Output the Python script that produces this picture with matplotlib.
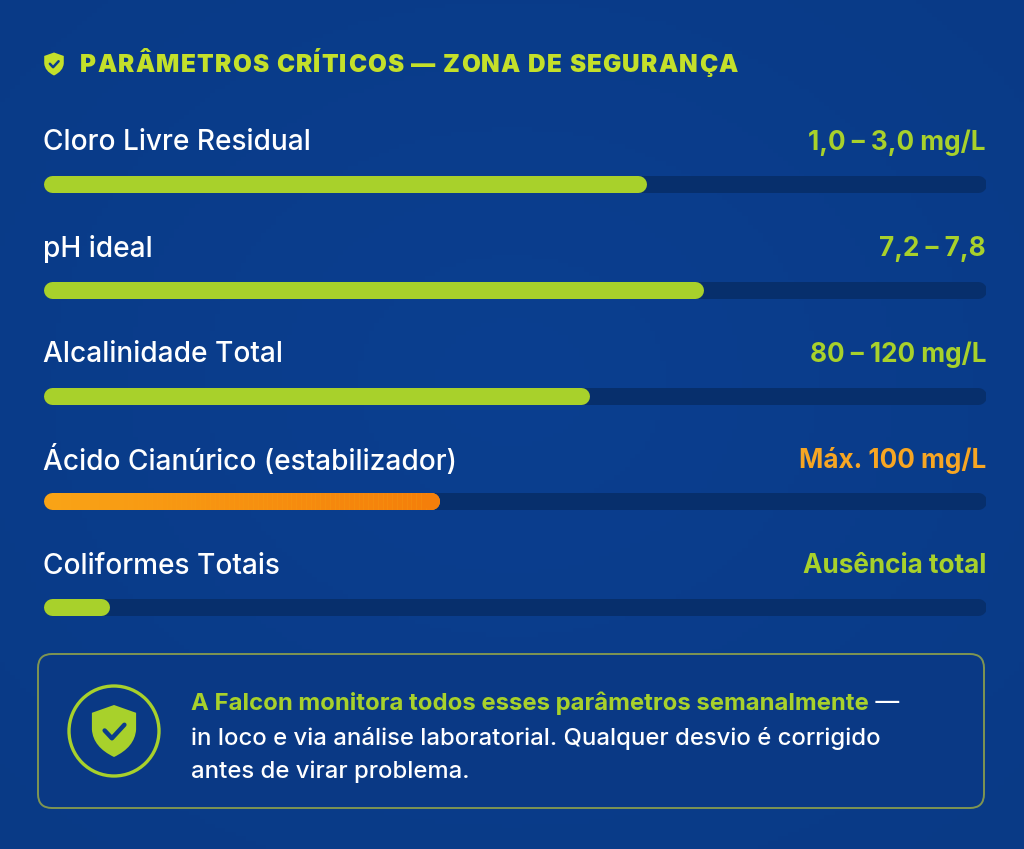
import numpy as np
import matplotlib
matplotlib.use("Agg")
import matplotlib.pyplot as plt
from matplotlib.patches import FancyBboxPatch, Circle, PathPatch
from matplotlib.path import Path
from matplotlib.collections import LineCollection
from matplotlib.colors import to_rgb

# ---------------- data ----------------
params = ["Cloro Livre Residual", "pH ideal", "Alcalinidade Total",
          "Ácido Cianúrico (estabilizador)", "Coliformes Totais"]
ranges = ["1,0 – 3,0 mg/L", "7,2 – 7,8", "80 – 120 mg/L",
          "Máx. 100 mg/L", "Ausência total"]
levels = [64, 70, 58, 42, 7]
warn = [False, False, False, True, False]
title = "PARÂMETROS CRÍTICOS — ZONA DE SEGURANÇA"
note_bold = "A Falcon monitora todos esses parâmetros semanalmente"
note_tail = " —"
note_lines = ["in loco e via análise laboratorial. Qualquer desvio é corrigido",
              "antes de virar problema."]

# ---------------- style ----------------
BG = "#0a3d8c"
TRACK = "#072f6c"
GREEN = "#a8d12b"
TITLE_GREEN = "#c4e02a"
ORANGE_TXT = "#f7a623"
OR_L, OR_R = "#f9a316", "#f47f0a"
WHITE = "#ffffff"
FONT = "Inter"

W, H = 1024, 849
fig = plt.figure(figsize=(W / 100, H / 100), dpi=100)
fig.patch.set_facecolor(BG)

bg = fig.add_axes([0, 0, 1, 1])
bg.set_xlim(0, W)
bg.set_ylim(H, 0)
bg.axis("off")
yy = np.linspace(0, 1, 200)[:, None]
xx = np.linspace(0, 1, 200)[None, :]
c0 = np.array(to_rgb("#0b3f90"))
c1 = np.array(to_rgb("#093a86"))
r = np.clip(np.sqrt((xx - 0.5) ** 2 + (yy - 0.45) ** 2) / 0.75, 0, 1)
img = c0[None, None, :] * (1 - r[..., None]) + c1[None, None, :] * r[..., None]
bg.imshow(img, extent=[0, W, H, 0], aspect="auto", zorder=0)


def shield(ax, cx, cy, s, color, check_color, lw):
    verts = [(0, 1.0), (0.85, 0.70), (0.85, 0.05), (0.80, -0.62), (0, -1.0),
             (-0.80, -0.62), (-0.85, 0.05), (-0.85, 0.70), (0, 1.0)]
    codes = [Path.MOVETO, Path.LINETO, Path.LINETO, Path.CURVE3, Path.CURVE3,
             Path.CURVE3, Path.CURVE3, Path.LINETO, Path.CLOSEPOLY]
    v = [(cx + s * x, cy - s * y) for x, y in verts]
    ax.add_patch(PathPatch(Path(v, codes), fc=color, ec="none", zorder=5))
    ck = [(-0.36, 0.02), (-0.08, -0.28), (0.40, 0.24)]
    ax.plot([cx + s * x for x, y in ck], [cy - s * y for x, y in ck],
            color=check_color, lw=lw, solid_capstyle="round",
            solid_joinstyle="round", zorder=6)


renderer = fig.canvas.get_renderer()


def text_w(s, **kw):
    t = bg.text(0, 0, s, **kw)
    w = t.get_window_extent(renderer).width
    t.remove()
    return w


# ---------------- title ----------------
shield(bg, 54, 64, 11.5, TITLE_GREEN, BG, 1.8)
tkw = dict(fontsize=17.5, fontweight="black", color=TITLE_GREEN, family=FONT)
x0, target = 80, 658
wI = text_w("I", **tkw)
natural = text_w(title, **tkw)
sp = (target - natural) / (len(title) - 1)
for i, ch in enumerate(title):
    off = (text_w(title[:i] + "I", **tkw) - wI) if i else 0
    bg.text(x0 + off + i * sp, 65, ch, ha="left", va="center", **tkw)

# ---------------- bars ----------------
L, R = 43, 986
top, bottom = 131, 660
ax = fig.add_axes([L / W, 1 - bottom / H, (R - L) / W, (bottom - top) / H])
ax.set_xlim(0, 100)
ax.set_ylim(len(params) - 0.5, -0.5)
ax.axis("off")
ax.patch.set_alpha(0)

LW_PX = 17
lw_pt = LW_PX * 72 / 100
cap = (LW_PX / 2) / (R - L) * 100

for i, (name, rng, lv, w) in enumerate(zip(params, ranges, levels, warn)):
    ax.plot([cap, 100 - cap], [i, i], color=TRACK, lw=lw_pt,
            solid_capstyle="round", zorder=1)
    if w:
        ax.plot([cap, lv - cap], [i, i], color=OR_L, lw=lw_pt,
                solid_capstyle="round", zorder=2)
        xs = np.linspace(cap, lv - cap, 80)
        segs = [[(xs[k], i), (xs[k + 1], i)] for k in range(len(xs) - 1)]
        ca, cb = np.array(to_rgb(OR_L)), np.array(to_rgb(OR_R))
        cols = [ca + (cb - ca) * t for t in np.linspace(0, 1, len(segs))]
        ax.add_collection(LineCollection(segs, colors=cols, linewidths=lw_pt,
                                         capstyle="butt", zorder=3))
        ax.plot([lv - cap], [i], "o", ms=lw_pt, color=OR_R, mec="none", zorder=3)
        vcol = ORANGE_TXT
    else:
        ax.plot([cap, lv - cap], [i, i], color=GREEN, lw=lw_pt,
                solid_capstyle="round", zorder=2)
        vcol = GREEN
    ax.annotate(name, xy=(0, i), xytext=(0, 29.5), textcoords="offset points",
                ha="left", va="center", fontsize=20.2, color=WHITE,
                family=FONT, fontweight="medium")
    ax.annotate(rng, xy=(100, i), xytext=(0, 29.5), textcoords="offset points",
                ha="right", va="center", fontsize=18.8, color=vcol,
                family=FONT, fontweight="bold")

# ---------------- note box ----------------
bg.add_patch(FancyBboxPatch((38, 654), 946, 154,
                            boxstyle="round,pad=0,rounding_size=14",
                            fc="#0a3985", ec="#7f9552", lw=1.4, zorder=2))
bg.add_patch(Circle((114, 731), 45, fc="none", ec=GREEN, lw=2.4, zorder=4))
shield(bg, 114, 731, 26, GREEN, BG, 3.2)

nkw = dict(fontsize=17.2, family=FONT, va="center", ha="left", zorder=6)
t1 = bg.text(191, 703, note_bold, color=GREEN, fontweight="bold", **nkw)
wb = t1.get_window_extent(renderer).width
bg.text(191 + wb, 703, note_tail, color=WHITE, fontweight="medium", **nkw)
for k, line in enumerate(note_lines):
    bg.text(191, 738 + 34 * k, line, color=WHITE, fontweight="medium", **nkw)

fig.savefig("out.png", dpi=100, facecolor=BG)
